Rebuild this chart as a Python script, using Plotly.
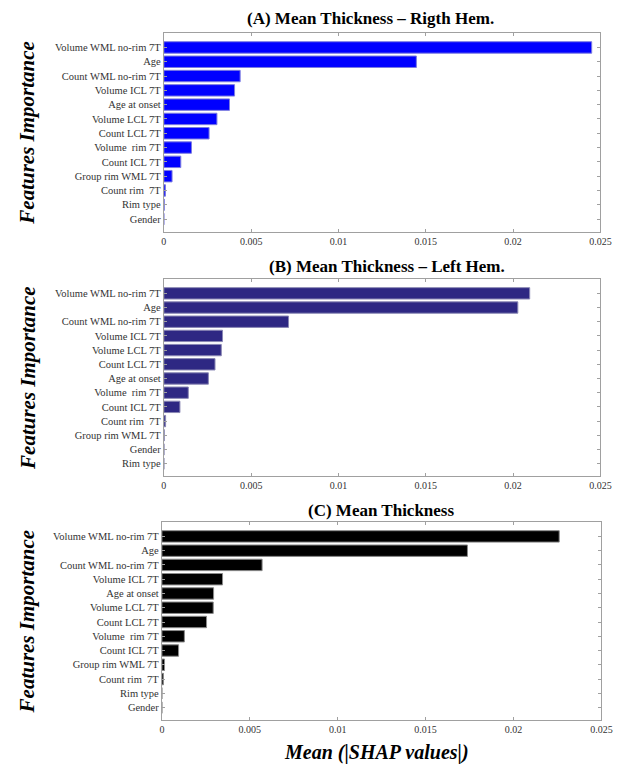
import plotly.graph_objects as go

# Mean |SHAP| per feature, one list per model (top-to-bottom order of each panel)
features_A = ["Volume WML no-rim 7T", "Age", "Count WML no-rim 7T", "Volume ICL 7T",
              "Age at onset", "Volume LCL 7T", "Count LCL 7T", "Volume  rim 7T",
              "Count ICL 7T", "Group rim WML 7T", "Count rim  7T", "Rim type", "Gender"]
shap_A = [0.0245, 0.01446, 0.00437, 0.00405, 0.00376, 0.00304, 0.00259, 0.00158,
          0.00097, 0.00047, 0.00009, 0.00002, 0.0]

features_B = ["Volume WML no-rim 7T", "Age", "Count WML no-rim 7T", "Volume ICL 7T",
              "Volume LCL 7T", "Count LCL 7T", "Age at onset", "Volume  rim 7T",
              "Count ICL 7T", "Count rim  7T", "Group rim WML 7T", "Gender", "Rim type"]
shap_B = [0.02095, 0.02027, 0.00714, 0.00336, 0.00329, 0.00293, 0.00255, 0.0014,
          0.00092, 0.0001, 0.00002, 0.00001, 0.0]

features_C = ["Volume WML no-rim 7T", "Age", "Count WML no-rim 7T", "Volume ICL 7T",
              "Age at onset", "Volume LCL 7T", "Count LCL 7T", "Volume  rim 7T",
              "Count ICL 7T", "Group rim WML 7T", "Count rim  7T", "Rim type", "Gender"]
shap_C = [0.0226, 0.01738, 0.0057, 0.00345, 0.00294, 0.00292, 0.00254, 0.00128,
          0.00095, 0.00015, 0.00009, 0.0, 0.0]

panel_titles = ["(A) Mean Thickness \u2013 Rigth Hem.",
                "(B) Mean Thickness \u2013 Left Hem.",
                "(C) Mean Thickness"]
x_tick_vals = [0, 0.005, 0.01, 0.015, 0.02, 0.025]
x_tick_text = ["0", "0.005", "0.01", "0.015", "0.02", "0.025"]

W, H = 630, 765
SERIF = "Liberation Serif, Times New Roman, serif"


def px_x(v):
    return v / W


def px_y(v):
    return 1 - v / H


panels = [
    dict(feat=features_A, vals=shap_A, color="#0000FF", edge="#7C7CE0",
         x0=164.5, x1=611, top=33, bottom=231.5, title_xy=(376, 18)),
    dict(feat=features_B, vals=shap_B, color="#2E2883", edge="#8A88B4",
         x0=164.5, x1=611, top=279, bottom=476, title_xy=(393, 266)),
    dict(feat=features_C, vals=shap_C, color="#000000", edge="#8A8A8A",
         x0=162.5, x1=612, top=522, bottom=720, title_xy=(387, 510)),
]

fig = go.Figure()
annotations = []
layout_axes = {}

for i, p in enumerate(panels, start=1):
    xa = "x" if i == 1 else f"x{i}"
    ya = "y" if i == 1 else f"y{i}"
    fig.add_trace(go.Bar(
        x=p["vals"], y=p["feat"], orientation="h",
        marker=dict(color=p["color"], line=dict(color=p["edge"], width=1)),
        width=0.8, xaxis=xa, yaxis=ya, showlegend=False,
    ))
    axis_line = dict(showline=True, mirror="ticks", linecolor="#A0A0A0", linewidth=1,
                     ticks="inside", ticklen=3, tickcolor="#A0A0A0", showgrid=False,
                     zeroline=False)
    layout_axes["xaxis" if i == 1 else f"xaxis{i}"] = dict(
        domain=[px_x(p["x0"]), px_x(p["x1"])], anchor=ya,
        range=[0, 0.025], tickvals=x_tick_vals, ticktext=x_tick_text,
        tickfont=dict(family=SERIF, size=10, color="#333333"), **axis_line)
    layout_axes["yaxis" if i == 1 else f"yaxis{i}"] = dict(
        domain=[px_y(p["bottom"]), px_y(p["top"])], anchor=xa,
        type="category", categoryorder="array", categoryarray=p["feat"],
        range=[12.87, -1.01],
        tickfont=dict(family=SERIF, size=10.5, color="#333333"), **axis_line)

    tx, ty = p["title_xy"]
    annotations.append(dict(
        text=f"<b>{panel_titles[i - 1]}</b>", x=px_x(tx), y=px_y(ty),
        xref="paper", yref="paper", xanchor="center", yanchor="middle",
        showarrow=False, font=dict(family=SERIF, size=17, color="#000000")))
    annotations.append(dict(
        text="<b><i>Features Importance</i></b>", x=px_x(25),
        y=px_y((p["top"] + p["bottom"]) / 2), textangle=-90,
        xref="paper", yref="paper", xanchor="center", yanchor="middle",
        showarrow=False, font=dict(family=SERIF, size=21, color="#000000")))

annotations.append(dict(
    text="<b><i>Mean (|SHAP values|)</i></b>", x=px_x(382), y=px_y(752),
    xref="paper", yref="paper", xanchor="center", yanchor="middle",
    showarrow=False, font=dict(family=SERIF, size=20, color="#000000")))

fig.update_layout(
    width=W, height=H, margin=dict(l=0, r=0, t=0, b=0),
    paper_bgcolor="white", plot_bgcolor="white",
    annotations=annotations, bargap=0.2, **layout_axes)

fig.write_html("out.html")
